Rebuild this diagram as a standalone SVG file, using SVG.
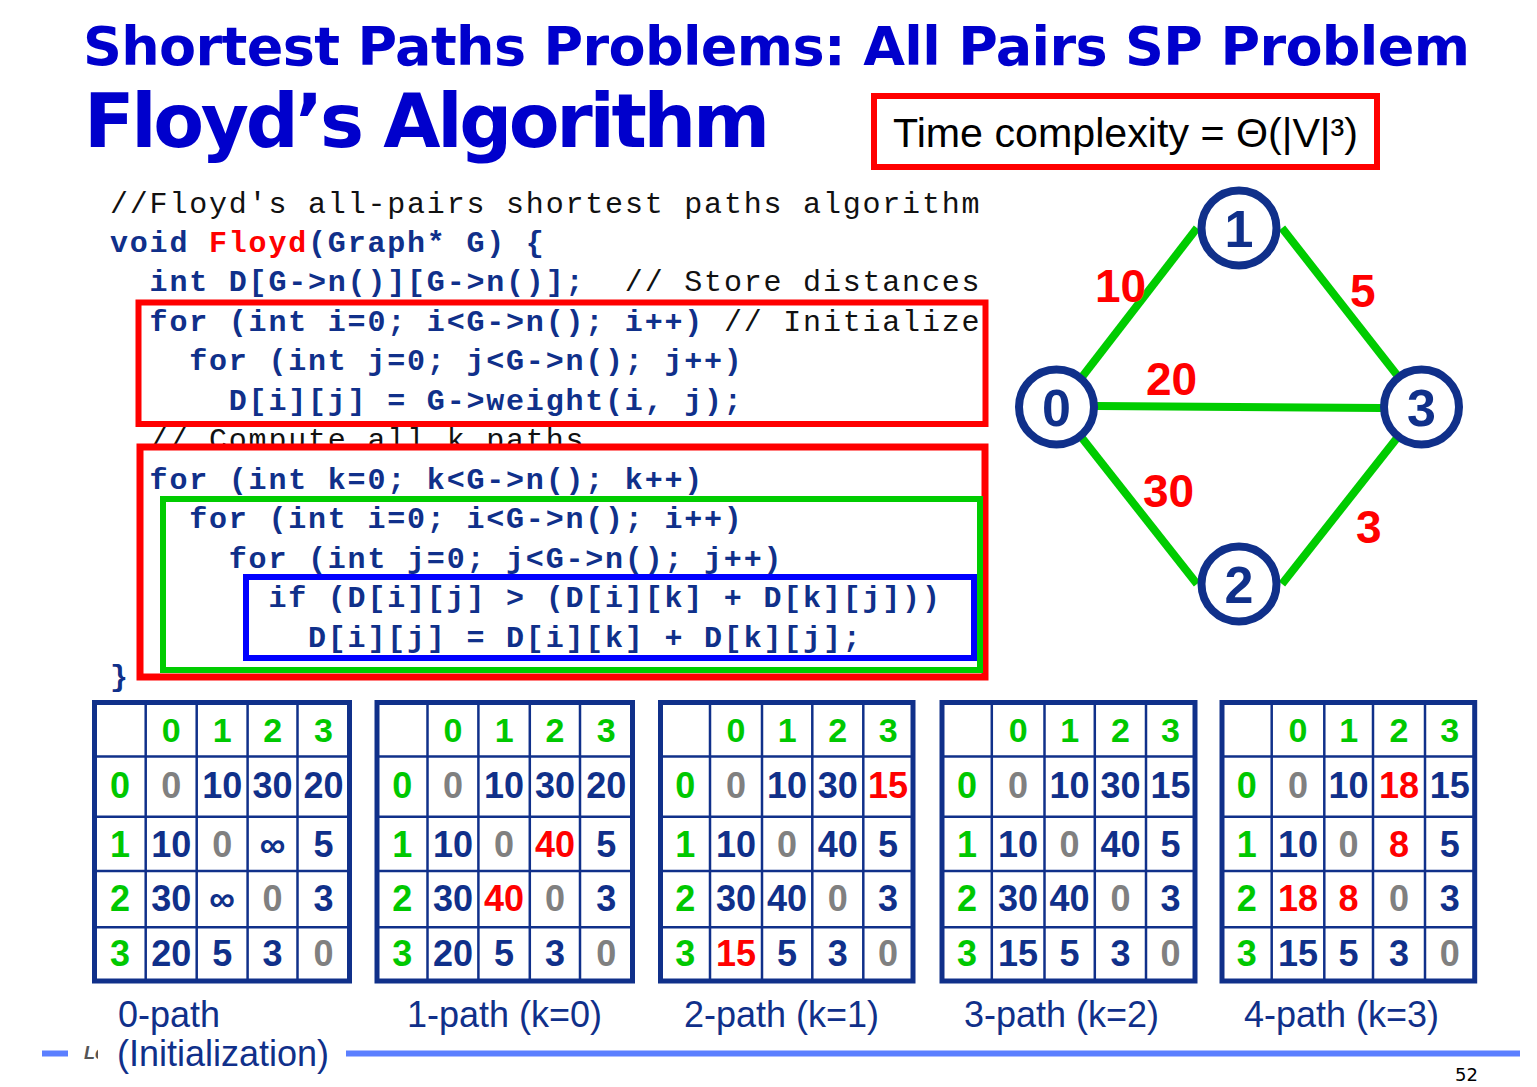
<svg xmlns="http://www.w3.org/2000/svg" width="1537" height="1087" viewBox="0 0 1537 1087">
  <style>
    .title { font-family: "DejaVu Sans", Verdana, sans-serif; font-weight: bold; fill: #0000CC; }
    .code { font-family: "Liberation Mono", "Courier New", monospace; font-size: 30px; letter-spacing: 1.8px; white-space: pre; }
    .kw { font-weight: bold; fill: #10308A; }
    .cm { font-weight: normal; fill: #111111; }
    .fn { fill: #FF0000; }
    .box { fill: none; stroke-width: 6; }
    .edge { stroke: #00CC00; stroke-width: 8; fill: none; }
    .node circle { fill: #FFFFFF; stroke: #10308A; stroke-width: 8; }
    .node text { font-family: "Liberation Sans", Arial, sans-serif; font-weight: bold; font-size: 52px; fill: #10308A; text-anchor: middle; }
    .wlabel { font-family: "Liberation Sans", Arial, sans-serif; font-weight: bold; font-size: 46px; fill: #FF0000; }
    .tbl .outer { fill: #FFFFFF; stroke: #10308A; stroke-width: 5; }
    .tbl line { stroke: #10308A; stroke-width: 2.5; }
    .tbl text { font-family: "Liberation Sans", Arial, sans-serif; font-weight: bold; font-size: 36px; text-anchor: middle; fill: #10308A; }
    .tbl text.h { fill: #00C800; }
    .tbl text.hd { font-size: 34px; }
    .tbl text.g { fill: #808080; }
    .tbl text.r { fill: #FF0000; }
    .cap { font-family: "Liberation Sans", Arial, sans-serif; font-size: 36px; fill: #10308A; }
    .rule { stroke: #5B7FFF; stroke-width: 6; }
  </style>

  <!-- headings -->
  <text class="title" x="83" y="65" font-size="54" textLength="1387" lengthAdjust="spacing">Shortest Paths Problems: All Pairs SP Problem</text>
  <text class="title" x="84" y="147" font-size="74" textLength="686" lengthAdjust="spacing">Floyd’s Algorithm</text>

  <g id="complexity">
    <rect x="874" y="96" width="503" height="71" fill="#FFFFFF" stroke="#FF0000" stroke-width="6"/>
    <text x="893" y="147" font-family="Liberation Sans, Arial, sans-serif" font-size="40" fill="#000000" textLength="465" lengthAdjust="spacingAndGlyphs">Time complexity = Θ(|V|³)</text>
  </g>

  <!-- source listing -->
  <g id="code">
    <rect x="138.5" y="302.5" width="847" height="121.5" fill="#FFFFFF" stroke="#FF0000" stroke-width="6"/>
    <text class="code cm" x="110" y="213">//Floyd's all-pairs shortest paths algorithm</text>
    <text class="code kw" x="110" y="252">void <tspan class="fn">Floyd</tspan>(Graph* G) {</text>
    <text class="code kw" x="149.6" y="291" xml:space="preserve">int D[G-&gt;n()][G-&gt;n()];<tspan class="cm">  // Store distances</tspan></text>
    <text class="code kw" x="149.6" y="331" xml:space="preserve">for (int i=0; i&lt;G-&gt;n(); i++)<tspan class="cm"> // Initialize</tspan></text>
    <text class="code kw" x="189.2" y="370">for (int j=0; j&lt;G-&gt;n(); j++)</text>
    <text class="code kw" x="228.8" y="410">D[i][j] = G-&gt;weight(i, j);</text>
    <text class="code cm" x="149.6" y="449">// Compute all k paths</text>

    <rect x="140" y="447" width="845" height="230" fill="#FFFFFF" stroke="#FF0000" stroke-width="7"/>
    <rect x="163" y="499" width="817" height="171" class="box" stroke="#00CC00"/>
    <rect x="246" y="577" width="728" height="81" class="box" stroke="#0000FF"/>

    <text class="code kw" x="149.6" y="488.5">for (int k=0; k&lt;G-&gt;n(); k++)</text>
    <text class="code kw" x="189.2" y="528">for (int i=0; i&lt;G-&gt;n(); i++)</text>
    <text class="code kw" x="228.8" y="567.5">for (int j=0; j&lt;G-&gt;n(); j++)</text>
    <text class="code kw" x="268.4" y="607">if (D[i][j] &gt; (D[i][k] + D[k][j]))</text>
    <text class="code kw" x="308" y="646.5">D[i][j] = D[i][k] + D[k][j];</text>
    <text class="code kw" x="110" y="686">}</text>
  </g>

  <!-- graph edges -->
  <g id="connectors">
    <line class="edge" x1="1082" y1="377" x2="1197" y2="228"/>
    <line class="edge" x1="1282" y1="228" x2="1397" y2="375"/>
    <line class="edge" x1="1097" y1="406" x2="1381" y2="408"/>
    <line class="edge" x1="1082" y1="438" x2="1197" y2="584"/>
    <line class="edge" x1="1397" y1="438" x2="1282" y2="584"/>
    <text class="wlabel" x="1095" y="302">10</text>
    <text class="wlabel" x="1350" y="307">5</text>
    <text class="wlabel" x="1146" y="395">20</text>
    <text class="wlabel" x="1143" y="507">30</text>
    <text class="wlabel" x="1356" y="543">3</text>
  </g>

  <!-- graph vertices -->
  <g id="node0" class="node"><circle cx="1056.5" cy="407" r="37.5"/><text x="1056.5" y="426">0</text></g>
  <g id="node1" class="node"><circle cx="1239" cy="228" r="37.5"/><text x="1239" y="247">1</text></g>
  <g id="node2" class="node"><circle cx="1239" cy="584" r="37.5"/><text x="1239" y="603">2</text></g>
  <g id="node3" class="node"><circle cx="1421.5" cy="407" r="37.5"/><text x="1421.5" y="426">3</text></g>

  <!-- distance matrices -->
  <g id="table0" class="tbl">
    <rect class="outer" x="94.5" y="702.5" width="255" height="278.5"/>
    <line x1="145.7" y1="702.5" x2="145.7" y2="981"/><line x1="196.7" y1="702.5" x2="196.7" y2="981"/><line x1="247.6" y1="702.5" x2="247.6" y2="981"/><line x1="297.5" y1="702.5" x2="297.5" y2="981"/>
    <line x1="94.5" y1="756.5" x2="349.5" y2="756.5"/><line x1="94.5" y1="816.7" x2="349.5" y2="816.7"/><line x1="94.5" y1="871" x2="349.5" y2="871"/><line x1="94.5" y1="927.3" x2="349.5" y2="927.3"/>
    <text class="h hd" x="171.2" y="742">0</text><text class="h hd" x="222.2" y="742">1</text><text class="h hd" x="272.6" y="742">2</text><text class="h hd" x="323.5" y="742">3</text>
    <text class="h" x="120.1" y="797.5">0</text><text class="g" x="171.2" y="797.5">0</text><text x="222.2" y="797.5">10</text><text x="272.6" y="797.5">30</text><text x="323.5" y="797.5">20</text>
    <text class="h" x="120.1" y="857">1</text><text x="171.2" y="857">10</text><text class="g" x="222.2" y="857">0</text><text x="272.6" y="857">∞</text><text x="323.5" y="857">5</text>
    <text class="h" x="120.1" y="911">2</text><text x="171.2" y="911">30</text><text x="222.2" y="911">∞</text><text class="g" x="272.6" y="911">0</text><text x="323.5" y="911">3</text>
    <text class="h" x="120.1" y="966">3</text><text x="171.2" y="966">20</text><text x="222.2" y="966">5</text><text x="272.6" y="966">3</text><text class="g" x="323.5" y="966">0</text>
  </g>

  <g id="table1" class="tbl">
    <rect class="outer" x="377" y="702.5" width="255.5" height="278.5"/>
    <line x1="427.5" y1="702.5" x2="427.5" y2="981"/><line x1="478.4" y1="702.5" x2="478.4" y2="981"/><line x1="529.8" y1="702.5" x2="529.8" y2="981"/><line x1="580" y1="702.5" x2="580" y2="981"/>
    <line x1="377" y1="756.5" x2="632.5" y2="756.5"/><line x1="377" y1="816.7" x2="632.5" y2="816.7"/><line x1="377" y1="871" x2="632.5" y2="871"/><line x1="377" y1="927.3" x2="632.5" y2="927.3"/>
    <text class="h hd" x="453" y="742">0</text><text class="h hd" x="504.1" y="742">1</text><text class="h hd" x="554.9" y="742">2</text><text class="h hd" x="606.2" y="742">3</text>
    <text class="h" x="402.2" y="797.5">0</text><text class="g" x="453" y="797.5">0</text><text x="504.1" y="797.5">10</text><text x="554.9" y="797.5">30</text><text x="606.2" y="797.5">20</text>
    <text class="h" x="402.2" y="857">1</text><text x="453" y="857">10</text><text class="g" x="504.1" y="857">0</text><text class="r" x="554.9" y="857">40</text><text x="606.2" y="857">5</text>
    <text class="h" x="402.2" y="911">2</text><text x="453" y="911">30</text><text class="r" x="504.1" y="911">40</text><text class="g" x="554.9" y="911">0</text><text x="606.2" y="911">3</text>
    <text class="h" x="402.2" y="966">3</text><text x="453" y="966">20</text><text x="504.1" y="966">5</text><text x="554.9" y="966">3</text><text class="g" x="606.2" y="966">0</text>
  </g>

  <g id="table2" class="tbl">
    <rect class="outer" x="660.5" y="702.5" width="252.5" height="278.5"/>
    <line x1="710" y1="702.5" x2="710" y2="981"/><line x1="762" y1="702.5" x2="762" y2="981"/><line x1="812.3" y1="702.5" x2="812.3" y2="981"/><line x1="863.3" y1="702.5" x2="863.3" y2="981"/>
    <line x1="660.5" y1="756.5" x2="913" y2="756.5"/><line x1="660.5" y1="816.7" x2="913" y2="816.7"/><line x1="660.5" y1="871" x2="913" y2="871"/><line x1="660.5" y1="927.3" x2="913" y2="927.3"/>
    <text class="h hd" x="736" y="742">0</text><text class="h hd" x="787.1" y="742">1</text><text class="h hd" x="837.8" y="742">2</text><text class="h hd" x="888.1" y="742">3</text>
    <text class="h" x="685.2" y="797.5">0</text><text class="g" x="736" y="797.5">0</text><text x="787.1" y="797.5">10</text><text x="837.8" y="797.5">30</text><text class="r" x="888.1" y="797.5">15</text>
    <text class="h" x="685.2" y="857">1</text><text x="736" y="857">10</text><text class="g" x="787.1" y="857">0</text><text x="837.8" y="857">40</text><text x="888.1" y="857">5</text>
    <text class="h" x="685.2" y="911">2</text><text x="736" y="911">30</text><text x="787.1" y="911">40</text><text class="g" x="837.8" y="911">0</text><text x="888.1" y="911">3</text>
    <text class="h" x="685.2" y="966">3</text><text class="r" x="736" y="966">15</text><text x="787.1" y="966">5</text><text x="837.8" y="966">3</text><text class="g" x="888.1" y="966">0</text>
  </g>

  <g id="table3" class="tbl">
    <rect class="outer" x="942" y="702.5" width="253" height="278.5"/>
    <line x1="991.8" y1="702.5" x2="991.8" y2="981"/><line x1="1044.5" y1="702.5" x2="1044.5" y2="981"/><line x1="1094.8" y1="702.5" x2="1094.8" y2="981"/><line x1="1146" y1="702.5" x2="1146" y2="981"/>
    <line x1="942" y1="756.5" x2="1195" y2="756.5"/><line x1="942" y1="816.7" x2="1195" y2="816.7"/><line x1="942" y1="871" x2="1195" y2="871"/><line x1="942" y1="927.3" x2="1195" y2="927.3"/>
    <text class="h hd" x="1018.1" y="742">0</text><text class="h hd" x="1069.6" y="742">1</text><text class="h hd" x="1120.4" y="742">2</text><text class="h hd" x="1170.5" y="742">3</text>
    <text class="h" x="966.9" y="797.5">0</text><text class="g" x="1018.1" y="797.5">0</text><text x="1069.6" y="797.5">10</text><text x="1120.4" y="797.5">30</text><text x="1170.5" y="797.5">15</text>
    <text class="h" x="966.9" y="857">1</text><text x="1018.1" y="857">10</text><text class="g" x="1069.6" y="857">0</text><text x="1120.4" y="857">40</text><text x="1170.5" y="857">5</text>
    <text class="h" x="966.9" y="911">2</text><text x="1018.1" y="911">30</text><text x="1069.6" y="911">40</text><text class="g" x="1120.4" y="911">0</text><text x="1170.5" y="911">3</text>
    <text class="h" x="966.9" y="966">3</text><text x="1018.1" y="966">15</text><text x="1069.6" y="966">5</text><text x="1120.4" y="966">3</text><text class="g" x="1170.5" y="966">0</text>
  </g>

  <g id="table4" class="tbl">
    <rect class="outer" x="1222" y="702.5" width="252.7" height="278.5"/>
    <line x1="1271.7" y1="702.5" x2="1271.7" y2="981"/><line x1="1324.3" y1="702.5" x2="1324.3" y2="981"/><line x1="1373" y1="702.5" x2="1373" y2="981"/><line x1="1425" y1="702.5" x2="1425" y2="981"/>
    <line x1="1222" y1="756.5" x2="1474.7" y2="756.5"/><line x1="1222" y1="816.7" x2="1474.7" y2="816.7"/><line x1="1222" y1="871" x2="1474.7" y2="871"/><line x1="1222" y1="927.3" x2="1474.7" y2="927.3"/>
    <text class="h hd" x="1298" y="742">0</text><text class="h hd" x="1348.6" y="742">1</text><text class="h hd" x="1399" y="742">2</text><text class="h hd" x="1449.8" y="742">3</text>
    <text class="h" x="1246.8" y="797.5">0</text><text class="g" x="1298" y="797.5">0</text><text x="1348.6" y="797.5">10</text><text class="r" x="1399" y="797.5">18</text><text x="1449.8" y="797.5">15</text>
    <text class="h" x="1246.8" y="857">1</text><text x="1298" y="857">10</text><text class="g" x="1348.6" y="857">0</text><text class="r" x="1399" y="857">8</text><text x="1449.8" y="857">5</text>
    <text class="h" x="1246.8" y="911">2</text><text class="r" x="1298" y="911">18</text><text class="r" x="1348.6" y="911">8</text><text class="g" x="1399" y="911">0</text><text x="1449.8" y="911">3</text>
    <text class="h" x="1246.8" y="966">3</text><text x="1298" y="966">15</text><text x="1348.6" y="966">5</text><text x="1399" y="966">3</text><text class="g" x="1449.8" y="966">0</text>
  </g>

  <!-- footer rule, partly hidden label and page number -->
  <line class="rule" x1="42" y1="1053.5" x2="68" y2="1053.5"/>
  <line class="rule" x1="346" y1="1053.5" x2="1520" y2="1053.5"/>
  <text x="84" y="1059" font-family="Liberation Sans, Arial, sans-serif" font-size="18" font-weight="bold" font-style="italic" fill="#555555">Le</text>
  <rect x="98" y="1036" width="246" height="44" fill="#FFFFFF"/>

  <!-- matrix captions -->
  <g id="captions">
    <text class="cap" x="118" y="1027">0-path</text>
    <text class="cap" x="117" y="1066">(Initialization)</text>
    <text class="cap" x="407" y="1027">1-path (k=0)</text>
    <text class="cap" x="684" y="1027">2-path (k=1)</text>
    <text class="cap" x="964" y="1027">3-path (k=2)</text>
    <text class="cap" x="1244" y="1027">4-path (k=3)</text>
  </g>

  <text x="1455" y="1081" font-family="DejaVu Sans, Verdana, sans-serif" font-size="18" fill="#000000">52</text>
</svg>
